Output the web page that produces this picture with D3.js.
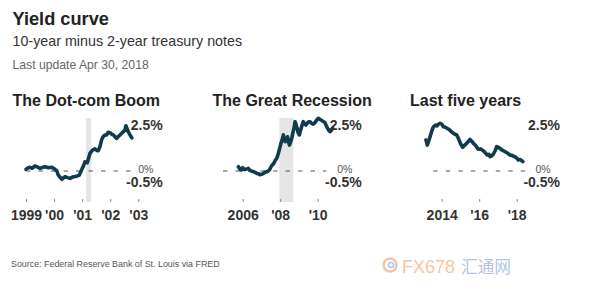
<!DOCTYPE html>
<html>
<head>
<meta charset="utf-8">
<script src="https://cdn.jsdelivr.net/npm/d3@7/dist/d3.min.js"></script>
<style>
  html, body { margin: 0; padding: 0; background: #fff; }
  svg { display: block; font-family: "Liberation Sans", Arial, Helvetica, sans-serif; }
</style>
</head>
<body>
<svg id="chart" width="600" height="292"></svg>
<script>
// ---------- Data ----------
const dotcomDates = [1999.0, 1999.08, 1999.14, 1999.22, 1999.32, 1999.4, 1999.5, 1999.6, 1999.68, 1999.8, 1999.92, 2000.03, 2000.1, 2000.15, 2000.22, 2000.27, 2000.33, 2000.39, 2000.48, 2000.57, 2000.66, 2000.75, 2000.83, 2000.9, 2000.98, 2001.05, 2001.1, 2001.18, 2001.23, 2001.28, 2001.37, 2001.45, 2001.52, 2001.57, 2001.63, 2001.69, 2001.75, 2001.81, 2001.87, 2001.93, 2001.99, 2002.05, 2002.11, 2002.17, 2002.23, 2002.3, 2002.35, 2002.41, 2002.47, 2002.52, 2002.56, 2002.6, 2002.64, 2002.69, 2002.74, 2002.77];
const dotcomValues = [0.1, 0.18, 0.2, 0.15, 0.27, 0.22, 0.14, 0.2, 0.23, 0.18, 0.2, 0.09, 0.0, -0.22, -0.35, -0.45, -0.38, -0.31, -0.36, -0.4, -0.33, -0.3, -0.27, -0.22, 0.05, 0.3, 0.5, 0.45, 0.7, 0.96, 1.14, 1.2, 1.12, 1.1, 1.3, 1.68, 1.87, 1.95, 1.96, 2.1, 2.08, 2.0, 1.96, 1.85, 1.77, 1.9, 1.96, 2.05, 2.14, 2.2, 2.46, 2.3, 2.14, 2.0, 1.87, 1.8];

const recessionDates = [2005.77, 2005.85, 2005.92, 2006.0, 2006.08, 2006.18, 2006.3, 2006.4, 2006.5, 2006.62, 2006.75, 2006.85, 2006.92, 2007.02, 2007.12, 2007.2, 2007.3, 2007.42, 2007.55, 2007.65, 2007.75, 2007.82, 2007.9, 2007.97, 2008.04, 2008.1, 2008.17, 2008.22, 2008.27, 2008.33, 2008.39, 2008.44, 2008.49, 2008.55, 2008.62, 2008.67, 2008.73, 2008.79, 2008.84, 2008.88, 2008.95, 2009.02, 2009.08, 2009.14, 2009.23, 2009.3, 2009.37, 2009.45, 2009.52, 2009.59, 2009.66, 2009.74, 2009.82, 2009.9, 2009.97, 2010.03, 2010.1, 2010.17, 2010.24, 2010.32, 2010.39, 2010.46, 2010.53, 2010.6, 2010.67, 2010.72, 2010.8];
const recessionValues = [0.23, 0.1, 0.05, 0.18, 0.08, 0.1, 0.14, 0.02, -0.01, -0.05, -0.13, -0.15, -0.2, -0.18, -0.12, -0.06, -0.04, 0.05, 0.3, 0.4, 0.6, 0.7, 0.95, 1.23, 1.5, 1.68, 1.96, 1.75, 1.59, 1.7, 1.86, 1.6, 1.41, 1.55, 1.8, 2.05, 2.3, 2.68, 2.55, 2.41, 2.1, 1.96, 2.2, 2.41, 2.68, 2.55, 2.5, 2.6, 2.68, 2.68, 2.6, 2.55, 2.59, 2.7, 2.8, 2.86, 2.82, 2.77, 2.73, 2.68, 2.63, 2.45, 2.32, 2.2, 2.14, 2.2, 2.32];

const recentDates = [2013.16, 2013.2, 2013.23, 2013.3, 2013.38, 2013.45, 2013.52, 2013.6, 2013.68, 2013.75, 2013.83, 2013.91, 2014.0, 2014.09, 2014.2, 2014.3, 2014.4, 2014.5, 2014.62, 2014.7, 2014.8, 2014.9, 2014.98, 2015.05, 2015.12, 2015.2, 2015.33, 2015.42, 2015.51, 2015.6, 2015.69, 2015.8, 2015.95, 2016.08, 2016.22, 2016.32, 2016.43, 2016.52, 2016.58, 2016.67, 2016.75, 2016.85, 2016.93, 2017.02, 2017.11, 2017.2, 2017.3, 2017.38, 2017.5, 2017.64, 2017.75, 2017.83, 2017.91, 2018.0, 2018.09, 2018.18, 2018.27, 2018.33];
const recentValues = [1.68, 1.55, 1.41, 1.6, 1.86, 2.1, 2.32, 2.45, 2.5, 2.45, 2.55, 2.59, 2.55, 2.41, 2.38, 2.3, 2.26, 2.15, 2.05, 2.0, 1.96, 1.75, 1.54, 1.4, 1.29, 1.38, 1.5, 1.6, 1.72, 1.62, 1.5, 1.4, 1.18, 1.2, 1.09, 1.0, 0.87, 0.9, 0.78, 0.82, 0.91, 1.1, 1.32, 1.28, 1.23, 1.15, 1.1, 1.05, 0.98, 0.87, 0.85, 0.8, 0.78, 0.7, 0.6, 0.62, 0.56, 0.51];

const panelTitles = ["The Dot-com Boom", "The Great Recession", "Last five years"];
const tickYears = [[1999, 2000, 2001, 2002, 2003], [2006, 2008, 2010], [2014, 2016, 2018]];
const tickLabels = [["1999", "'00", "'01", "'02", "'03"], ["2006", "'08", "'10"], ["2014", "'16", "'18"]];
const recessionBands = [[2001.14, 2001.32], [2007.95, 2008.7], null];
const zeroLineSpans = [[1999.0, 2002.75], [2004.95, 2010.45], [2013.55, 2018.45]];
const yLabelValues = [2.5, -0.5];
const yLabelTexts = ["2.5%", "-0.5%"];

// ---------- Layout ----------
const svg = d3.select("#chart");
svg.append("rect").attr("width", 600).attr("height", 292).attr("fill", "#fff");

svg.append("text").attr("x", 12.5).attr("y", 25).attr("font-size", 18.2).attr("font-weight", "bold")
  .attr("fill", "#222").text("Yield curve");
svg.append("text").attr("x", 12.5).attr("y", 46).attr("font-size", 14.3)
  .attr("fill", "#333").text("10-year minus 2-year treasury notes");
svg.append("text").attr("x", 12.5).attr("y", 68.5).attr("font-size", 12.2)
  .attr("fill", "#666").text("Last update Apr 30, 2018");

const panels = [
  {dates: dotcomDates, values: dotcomValues, titleX: 12.5, domain: [1999, 2003], range: [26, 138.3], right: 162.7},
  {dates: recessionDates, values: recessionValues, titleX: 212.5, domain: [2006, 2010], range: [242.7, 317.7], right: 361.7},
  {dates: recentDates, values: recentValues, titleX: 410, domain: [2014, 2018], range: [441.7, 516.7], right: 560}
];

const y = d3.scaleLinear().domain([-0.5, 2.5]).range([180.2, 125]);

panels.forEach((p, i) => {
  const x = d3.scaleLinear().domain(p.domain).range(p.range);
  const g = svg.append("g");

  g.append("text").attr("x", p.titleX).attr("y", 105.5).attr("font-size", 16)
    .attr("font-weight", "bold").attr("fill", "#222").text(panelTitles[i]);

  const band = recessionBands[i];
  if (band) {
    g.append("rect")
      .attr("x", x(band[0])).attr("width", x(band[1]) - x(band[0]))
      .attr("y", 118).attr("height", 84)
      .attr("fill", "#e5e5e5");
  }

  const zs = zeroLineSpans[i];
  g.append("line")
    .attr("x1", x(zs[0])).attr("x2", x(zs[1]))
    .attr("y1", y(0)).attr("y2", y(0))
    .attr("stroke", "#555").attr("stroke-width", 1)
    .attr("stroke-dasharray", "4.5,8");

  const pts = p.dates.map((d, k) => [d, p.values[k]]);
  g.append("path")
    .datum(pts)
    .attr("d", d3.line().x(d => x(d[0])).y(d => y(d[1])))
    .attr("fill", "none")
    .attr("stroke", "#0f3b4d")
    .attr("stroke-width", 3.6)
    .attr("stroke-linejoin", "round")
    .attr("stroke-linecap", "round");

  // y value labels
  yLabelValues.forEach((v, k) => {
    g.append("text").attr("x", p.right).attr("y", y(v)).attr("dy", v < 0 ? "0.45em" : "0.36em")
      .attr("text-anchor", "end").attr("font-size", 14).attr("font-weight", "bold")
      .attr("fill", "#333").text(yLabelTexts[k]);
  });
  g.append("text").attr("x", p.right - 24.5).attr("y", y(0)).attr("dy", "0.22em")
    .attr("font-size", 10.5).attr("fill", "#555").text("0%");

  // x axis
  const axis = d3.axisBottom(x)
    .tickValues(tickYears[i])
    .tickFormat((d, k) => tickLabels[i][k])
    .tickSizeInner(3).tickSizeOuter(0).tickPadding(8);
  const ag = g.append("g").attr("transform", "translate(0,199)").call(axis);
  ag.select(".domain").remove();
  ag.selectAll(".tick line").attr("stroke", "#888");
  ag.selectAll(".tick text").attr("font-size", 14).attr("font-weight", "bold")
    .attr("fill", "#333").attr("font-family", "\"Liberation Sans\", Arial, sans-serif");
});

svg.append("text").attr("x", 11).attr("y", 266.5).attr("font-size", 8.9)
  .attr("fill", "#555").text("Source: Federal Reserve Bank of St. Louis via FRED");

// watermark
const wm = svg.append("g").attr("opacity", 0.6);
wm.append("circle").attr("cx", 390).attr("cy", 265).attr("r", 6.5)
  .attr("fill", "none").attr("stroke", "#e9a070").attr("stroke-width", 2.5);
wm.append("circle").attr("cx", 391).attr("cy", 265).attr("r", 2.5)
  .attr("fill", "none").attr("stroke", "#7fa3d0").attr("stroke-width", 1.5);
wm.append("text").attr("x", 402).attr("y", 273).attr("font-size", 19)
  .attr("textLength", 53).attr("lengthAdjust", "spacingAndGlyphs")
  .attr("fill", "#f0a060").text("FX678");
wm.append("text").attr("x", 461).attr("y", 273).attr("font-size", 17)
  .attr("font-family", "\"Noto Sans CJK SC\", sans-serif")
  .attr("textLength", 50).attr("lengthAdjust", "spacingAndGlyphs")
  .attr("fill", "#7f9fcc").text("汇通网");
</script>
</body>
</html>
